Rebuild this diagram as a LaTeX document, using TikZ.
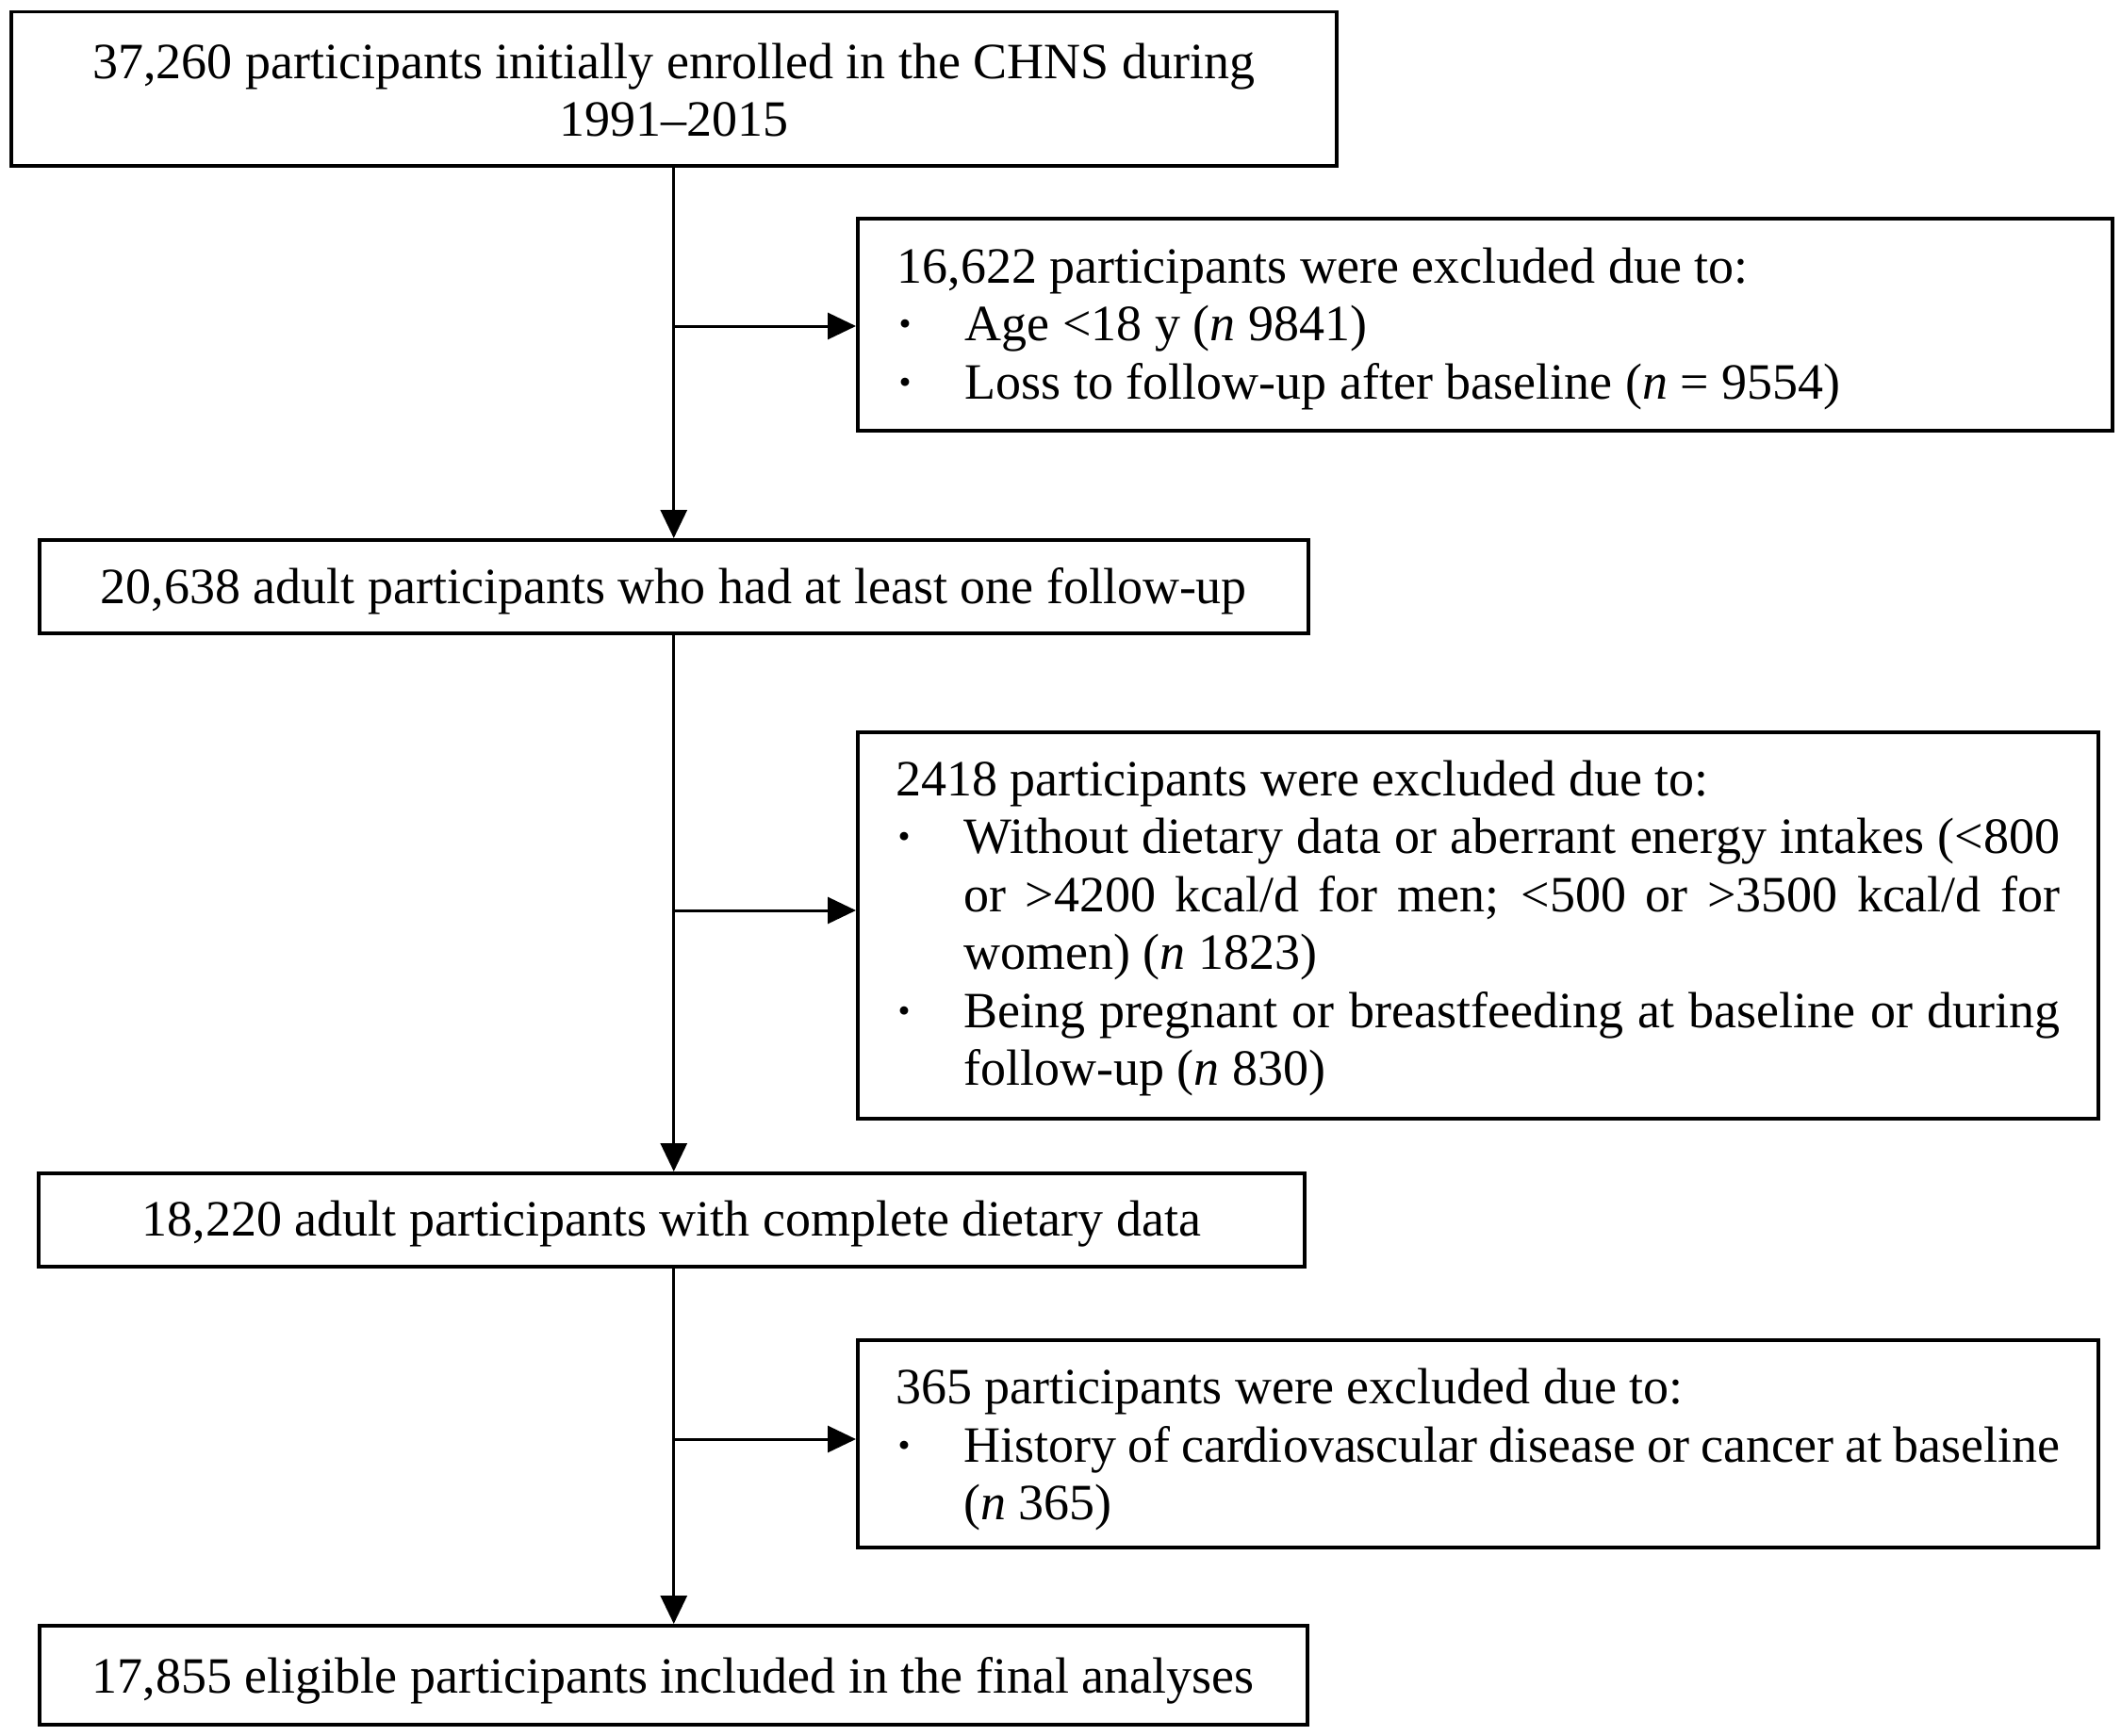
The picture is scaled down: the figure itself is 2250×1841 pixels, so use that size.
\documentclass[tikz,border=0pt]{standalone}
\usepackage{fontspec}
\setmainfont{Liberation Serif}
\usetikzlibrary{arrows.meta}
\newcommand\exbul{\makebox[72pt][l]{\hspace*{0pt}\textbf{·}}}
\newcommand\exitem{\par\noindent\hangindent=72pt\hangafter=1\exbul}
\newcommand\topstrut[1]{\rule{0pt}{#1}}
\begin{document}
\begin{tikzpicture}[x=1pt,y=1pt,
  every node/.style={font=\fontsize{54pt}{61.5pt}\selectfont},
  box/.style={draw, line width=3.5pt, inner sep=0pt, anchor=north west},
  mainbox/.style={box, align=center},
  exbox/.style={box, align=justify},
  conn/.style={line width=3pt},
  arr/.style={conn, -{Triangle[length=30pt,width=28pt]}}]

\fill[white] (0,0) rectangle (2250,-1841);
\useasboundingbox (0,0) rectangle (2250,-1841);

\node[mainbox, minimum width=1406pt, minimum height=163pt] (b1) at (10,-11)
  {\topstrut{40pt}37,260 participants initially enrolled in the CHNS during\\1991–2015};

\node[exbox, minimum width=1331pt, minimum height=225pt, text width=1247pt] (a1) at (908,-230)
  {\noindent\topstrut{46pt}16,622 participants were excluded due to:%
   \exitem Age <18 y (\textit{n} 9841)%
   \exitem Loss to follow-up after baseline (\textit{n} = 9554)\par};

\node[mainbox, minimum width=1346pt, minimum height=99pt] (b2) at (40,-571)
  {\topstrut{47pt}20,638 adult participants who had at least one follow-up};

\node[exbox, minimum width=1316pt, minimum height=410pt, text width=1235pt] (a2) at (908,-775)
  {\noindent\topstrut{44pt}2418 participants were excluded due to:%
   \exitem Without dietary data or aberrant energy intakes (<800\linebreak
   or >4200 kcal/d for men; <500 or >3500 kcal/d for\linebreak
   women) (\textit{n} 1823)%
   \exitem Being pregnant or breastfeeding at baseline or during\linebreak
   follow-up (\textit{n} 830)\par};

\node[mainbox, minimum width=1343pt, minimum height=99pt] (b3) at (39,-1243)
  {\topstrut{47pt}18,220 adult participants with complete dietary data};

\node[exbox, minimum width=1316pt, minimum height=220pt, text width=1235pt] (a3) at (908,-1420)
  {\noindent\topstrut{50pt}365 participants were excluded due to:%
   \exitem History of cardiovascular disease or cancer at baseline\linebreak
   (\textit{n} 365)\par};

\node[mainbox, minimum width=1345pt, minimum height=105pt] (b4) at (40,-1723)
  {\topstrut{50pt}17,855 eligible participants included in the final analyses};

\coordinate (j1) at (b1.south |- 0,-346);
\coordinate (j2) at (b1.south |- 0,-966);
\coordinate (j3) at (b1.south |- 0,-1527);

\draw[arr] (b1.south) -- (b2.north -| b1.south);
\draw[arr] (b2.south -| b1.south) -- (b3.north -| b1.south);
\draw[arr] (b3.south -| b1.south) -- (b4.north -| b1.south);
\draw[arr] (j1) -- (j1 -| a1.west);
\draw[arr] (j2) -- (j2 -| a2.west);
\draw[arr] (j3) -- (j3 -| a3.west);
\end{tikzpicture}
\end{document}
